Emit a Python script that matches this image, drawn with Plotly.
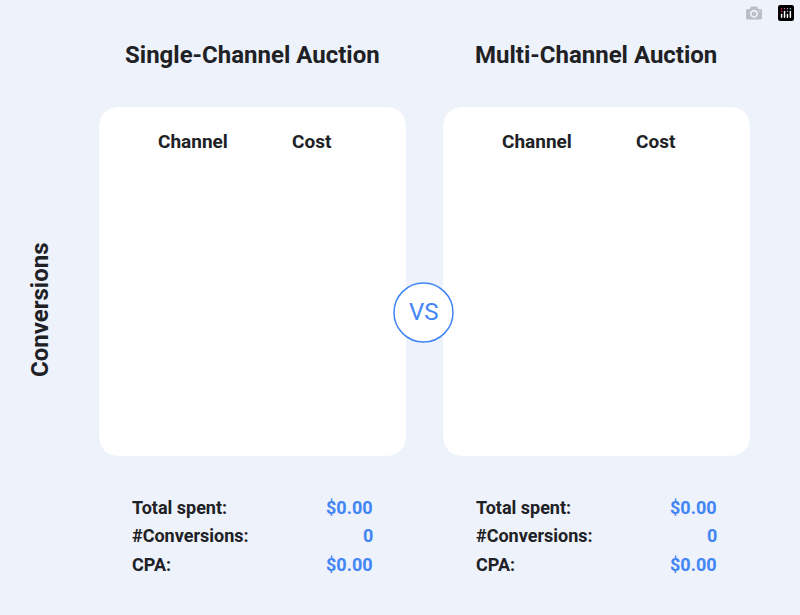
import plotly.graph_objects as go

panels = ["Single-Channel Auction", "Multi-Channel Auction"]
columns = ["Channel", "Cost"]
total_spent = [0.00, 0.00]
conversions = [0, 0]
cpa = [0.00, 0.00]
stat_labels = ["Total spent:", "#Conversions:", "CPA:"]

W, H = 800, 615
fig = go.Figure()
fig.update_layout(width=W, height=H, margin=dict(l=0, r=0, t=0, b=0),
                  paper_bgcolor="#eef2fb", plot_bgcolor="#eef2fb", showlegend=False,
                  xaxis=dict(range=[0, W], visible=False, fixedrange=True),
                  yaxis=dict(range=[H, 0], visible=False, fixedrange=True),
                  font=dict(family="Roboto", color="#202124"))

def rrect(x0, y0, x1, y1, r):
    return (f"M{x0+r},{y0} L{x1-r},{y0} Q{x1},{y0} {x1},{y0+r} L{x1},{y1-r} Q{x1},{y1} {x1-r},{y1} "
            f"L{x0+r},{y1} Q{x0},{y1} {x0},{y1-r} L{x0},{y0+r} Q{x0},{y0} {x0+r},{y0} Z")

shapes, ann = [], []
lefts = [99, 443]
for i, name in enumerate(panels):
    x0 = lefts[i]
    shapes.append(dict(type="path", path=rrect(x0, 107, x0 + 307, 456, 22), xref="x", yref="y",
                       fillcolor="white", line=dict(width=0), layer="below"))
    ann.append(dict(x=x0 + 153, y=55, text=f"<b>{name}</b>", font=dict(size=24)))
    ann.append(dict(x=x0 + 94, y=141, text=f"<b>{columns[0]}</b>", font=dict(size=19)))
    ann.append(dict(x=x0 + 213, y=141, text=f"<b>{columns[1]}</b>", font=dict(size=19)))
    vals = [f"${total_spent[i]:.2f}", f"{conversions[i]}", f"${cpa[i]:.2f}"]
    for j, (lab, v) in enumerate(zip(stat_labels, vals)):
        y = 507 + j * 28.5
        ann.append(dict(x=x0 + 31, y=y, text=f"<b>{lab}</b>", xanchor="left", font=dict(size=18)))
        ann.append(dict(x=x0 + 276, y=y, text=f"<b>{v}</b>", xanchor="right",
                        font=dict(size=18, color="#4285f4")))

shapes.append(dict(type="circle", x0=394, x1=453, y0=283, y1=342, xref="x", yref="y",
                   fillcolor="white", line=dict(color="#4285f4", width=1.5)))
ann.append(dict(x=423.5, y=312, text="VS", font=dict(size=24, color="#4285f4")))
ann.append(dict(x=40, y=310, text="<b>Conversions</b>", textangle=-90, font=dict(size=24)))

for a in ann:
    a.update(xref="x", yref="y", showarrow=False)
fig.update_layout(shapes=shapes, annotations=ann)
fig.write_html("out.html",
               post_script="document.body.style.margin='0';document.body.style.background='#eef2fb';")
